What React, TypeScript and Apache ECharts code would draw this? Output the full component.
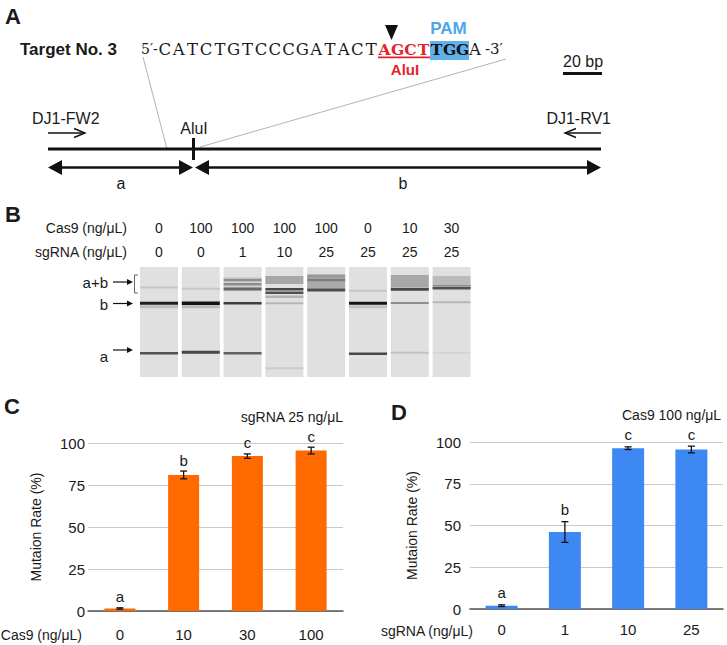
import React, { useEffect, useRef } from "react";
import * as echarts from "echarts";

// ---------- Panel B: gel ----------
const laneCas9 = ["0", "100", "100", "100", "100", "0", "10", "30"];
const laneSgRNA = ["0", "0", "1", "10", "25", "25", "25", "25"];
// [lane, migration position (from gel top), intensity, thickness]
const gelBands: number[][] = [
  [0, 20.5, 0.13, 2], [0, 36.3, 0.95, 3], [0, 39.8, 0.18, 3], [0, 86.3, 0.7, 2.5],
  [1, 21.7, 0.13, 2], [1, 36.3, 1.0, 3.5], [1, 39.8, 0.2, 3], [1, 85.3, 0.75, 3],
  [2, 17, 0.08, 14], [2, 13, 0.35, 2.5], [2, 17.3, 0.35, 2.5], [2, 22, 0.55, 3], [2, 36.3, 0.8, 2.5], [2, 86.3, 0.62, 2.5],
  [3, 13, 0.28, 8], [3, 22.3, 0.75, 2.5], [3, 25.7, 0.7, 2.5], [3, 29.7, 0.22, 2.5], [3, 36.3, 0.2, 2], [3, 101.3, 0.1, 2],
  [4, 14.5, 0.26, 14], [4, 13, 0.3, 2.5], [4, 23, 0.72, 3], [4, 9, 0.12, 3],
  [5, 23.7, 0.12, 2], [5, 36.3, 1.0, 3], [5, 39.8, 0.15, 3], [5, 86.7, 0.75, 2.5],
  [6, 14, 0.28, 12], [6, 22.3, 0.75, 3], [6, 36, 0.4, 2], [6, 85.7, 0.15, 2],
  [7, 14, 0.18, 10], [7, 19, 0.28, 2], [7, 21.3, 0.7, 2.5], [7, 35.3, 0.2, 2], [7, 86, 0.05, 2],
];

// ---------- Panel C ----------
const cas9Doses = ["0", "10", "30", "100"];
const cas9Rates = [1.5, 81, 92.2, 95.5];
const cas9Errors = [0.4, 2.3, 1.3, 2.0];
const cas9Groups = ["a", "b", "c", "c"];

// ---------- Panel D ----------
const sgDoses = ["0", "1", "10", "25"];
const sgRates = [2.0, 46.1, 96.3, 95.5];
const sgErrors = [0.5, 6.2, 0.8, 2.0];
const sgGroups = ["a", "b", "c", "c"];

const rateMin = 0;
const rateMax = 100;
const rateStep = 25;

const SANS = '"Liberation Sans", Arial, Helvetica, sans-serif';
const SERIF = '"DejaVu Serif", serif';
const RED = "#E3242B";
const BLUE_TXT = "#4DA6EC";

function txt(x: number, y: number, text: string, opts: any = {}) {
  return {
    type: "text",
    x,
    y,
    silent: true,
    style: {
      text,
      fill: opts.fill || "#1a1a1a",
      font: `${opts.weight || "normal"} ${opts.size || 14}px ${opts.family || SANS}`,
      textAlign: opts.align || "left",
      textVerticalAlign: "middle",
    },
  };
}

function line(x1: number, y1: number, x2: number, y2: number, stroke: string, lineWidth: number) {
  return { type: "line", silent: true, shape: { x1, y1, x2, y2 }, style: { stroke, lineWidth } };
}

function poly(points: number[][], fill: string) {
  return { type: "polygon", silent: true, shape: { points }, style: { fill } };
}

function buildGraphics() {
  const g: any[] = [];
  // Panel letters
  g.push(txt(5, 16, "A", { weight: "bold", size: 22 }));
  g.push(txt(5, 214, "B", { weight: "bold", size: 22 }));
  g.push(txt(4, 406, "C", { weight: "bold", size: 22 }));
  g.push(txt(391, 412, "D", { weight: "bold", size: 22 }));

  // ---- Panel A ----
  g.push(txt(20, 49, "Target No. 3", { weight: "bold", size: 17 }));
  // zoom lines
  g.push(line(143, 57, 167, 149, "#b3b3b3", 1));
  g.push(line(506, 59, 200, 147, "#b3b3b3", 1));
  // PAM highlight & AluI underline
  g.push({ type: "rect", silent: true, shape: { x: 430, y: 41, width: 39, height: 19 }, style: { fill: "#62B0EA" } });
  g.push({ type: "rect", silent: true, shape: { x: 378, y: 56.5, width: 52, height: 1.7 }, style: { fill: RED } });
  g.push(txt(141, 49, "5′-", { family: SERIF, size: 14 }));
  const plain = "CATCTGTCCCGATACT";
  for (let i = 0; i < plain.length; i++) {
    g.push(txt(158 + 13.75 * (i + 0.5), 49, plain[i], { family: SERIF, size: 16.5, align: "center" }));
  }
  const alu = "AGCT";
  for (let i = 0; i < alu.length; i++) {
    g.push(txt(378 + 13 * (i + 0.5), 49, alu[i], { family: SERIF, size: 15.5, align: "center", weight: "bold", fill: RED }));
  }
  const pam = "TGG";
  for (let i = 0; i < pam.length; i++) {
    g.push(txt(430 + 13 * (i + 0.5), 49, pam[i], { family: SERIF, size: 15.5, align: "center", weight: "bold", fill: "#111" }));
  }
  g.push(txt(475, 49, "A", { family: SERIF, size: 16.5, align: "center" }));
  g.push(txt(485, 49, "-3′", { family: SERIF, size: 15 }));
  g.push(poly([[385, 25], [398, 25], [391.5, 40]], "#111"));
  g.push(txt(448.5, 28, "PAM", { weight: "bold", size: 17, align: "center", fill: BLUE_TXT }));
  g.push(txt(405, 69, "AluI", { weight: "bold", size: 15, align: "center", fill: RED }));
  // scale bar
  g.push(txt(583, 61, "20 bp", { size: 16, align: "center" }));
  g.push({ type: "rect", silent: true, shape: { x: 563, y: 72, width: 39, height: 3 }, style: { fill: "#111" } });
  // primers
  g.push(txt(32, 118, "DJ1-FW2", { size: 16 }));
  g.push(txt(611, 118, "DJ1-RV1", { size: 16, align: "right" }));
  g.push(line(48, 133, 85, 133, "#111", 1.4));
  g.push({ type: "polyline", silent: true, shape: { points: [[74, 128.5], [85, 133], [74, 137.5]] }, style: { stroke: "#111", lineWidth: 1.4, fill: null } });
  g.push(line(565, 133, 601, 133, "#111", 1.4));
  g.push({ type: "polyline", silent: true, shape: { points: [[576, 128.5], [565, 133], [576, 137.5]] }, style: { stroke: "#111", lineWidth: 1.4, fill: null } });
  // amplicon
  g.push(line(48, 149, 601, 149, "#111", 3));
  g.push(line(193.5, 138, 193.5, 160, "#111", 3));
  g.push(txt(194, 128, "AluI", { size: 16, align: "center" }));
  // fragment arrows
  g.push(line(56, 167.5, 185, 167.5, "#111", 2.5));
  g.push(poly([[48, 167.5], [62, 160], [62, 175]], "#111"));
  g.push(poly([[193, 167.5], [179, 160], [179, 175]], "#111"));
  g.push(line(203, 167.5, 593, 167.5, "#111", 2.5));
  g.push(poly([[195, 167.5], [209, 160], [209, 175]], "#111"));
  g.push(poly([[601, 167.5], [587, 160], [587, 175]], "#111"));
  g.push(txt(121, 183, "a", { size: 16, align: "center" }));
  g.push(txt(403, 183, "b", { size: 16, align: "center" }));

  // ---- Panel B labels ----
  g.push(txt(127, 228, "Cas9 (ng/μL)", { size: 14, align: "right" }));
  g.push(txt(127, 252, "sgRNA (ng/μL)", { size: 14, align: "right" }));
  const arrowRows: [string, number, number][] = [["a+b", 282.7, 282], ["b", 304, 303.5], ["a", 356, 350]];
  arrowRows.forEach(([label, ty, ay]) => {
    g.push(txt(108, ty, label, { size: 15, align: "right" }));
    g.push(line(113, ay, 128, ay, "#111", 1.2));
    g.push(poly([[127, ay - 3], [133, ay], [127, ay + 3]], "#111"));
  });
  g.push({ type: "polyline", silent: true, shape: { points: [[138, 275], [134.5, 275], [134.5, 293], [138, 293]] }, style: { stroke: "#666", lineWidth: 1, fill: null } });

  // ---- Panels C/D captions ----
  g.push(txt(343, 417, "sgRNA 25 ng/μL", { size: 14, align: "right" }));
  g.push(txt(82, 635, "Cas9 (ng/μL)", { size: 14, align: "right" }));
  g.push(txt(622, 415, "Cas9 100 ng/μL", { size: 14 }));
  g.push(txt(473, 631, "sgRNA (ng/μL)", { size: 14, align: "right" }));
  return g;
}

function errorSeries(name: string, idx: number, rates: number[], errs: number[], groups: string[], gap: number) {
  return {
    name,
    type: "custom",
    xAxisIndex: idx,
    yAxisIndex: idx,
    silent: true,
    z: 5,
    data: rates.map((v, i) => [i, v, errs[i]]),
    renderItem: (params: any, api: any) => {
      const i = api.value(0);
      const v = api.value(1);
      const e = api.value(2);
      const top = api.coord([i, v + e]);
      const bot = api.coord([i, Math.max(0, v - e)]);
      const hw = 3.5;
      const st = { stroke: "#111", lineWidth: 1.3 };
      return {
        type: "group",
        children: [
          { type: "line", shape: { x1: top[0], y1: top[1], x2: bot[0], y2: bot[1] }, style: st },
          { type: "line", shape: { x1: top[0] - hw, y1: top[1], x2: top[0] + hw, y2: top[1] }, style: st },
          { type: "line", shape: { x1: bot[0] - hw, y1: bot[1], x2: bot[0] + hw, y2: bot[1] }, style: st },
          {
            type: "text",
            x: top[0],
            y: top[1] - gap,
            style: { text: groups[params.dataIndex], font: `15px ${SANS}`, fill: "#1a1a1a", textAlign: "center", textVerticalAlign: "middle" },
          },
        ],
      };
    },
  };
}

function rateAxis(idx: number, nameGap: number, labelMargin: number) {
  return {
    type: "value",
    gridIndex: idx,
    min: rateMin,
    max: rateMax,
    interval: rateStep,
    name: "Mutaion Rate (%)",
    nameLocation: "middle",
    nameRotate: 90,
    nameGap,
    nameTextStyle: { fontFamily: SANS, fontSize: 14, color: "#1a1a1a" },
    axisLine: { show: false },
    axisTick: { show: false },
    axisLabel: { fontFamily: SANS, fontSize: 15, color: "#1a1a1a", margin: labelMargin },
    splitLine: { lineStyle: { color: "#c9c9c9", width: 1 } },
  };
}

function doseAxis(idx: number, cats: string[], margin: number) {
  return {
    type: "category",
    gridIndex: idx,
    data: cats,
    axisLine: { lineStyle: { color: "#555", width: 1.5 } },
    axisTick: { show: false },
    axisLabel: { fontFamily: SANS, fontSize: 15, color: "#1a1a1a", margin },
  };
}

export default function App() {
  const ref = useRef<HTMLDivElement>(null);
  useEffect(() => {
    document.body.style.margin = "0";
    if (!ref.current) return;
    const chart = echarts.init(ref.current, null, { renderer: "svg" });
    const option: any = {
      animation: false,
      backgroundColor: "#ffffff",
      grid: [
        { left: 138.1, top: 267, width: 334.4, height: 110 },
        { left: 88, top: 443, width: 255, height: 168 },
        { left: 470, top: 442, width: 253, height: 167 },
      ],
      xAxis: [
        {
          type: "category",
          gridIndex: 0,
          position: "top",
          data: laneCas9,
          axisLine: { show: false },
          axisTick: { show: false },
          axisLabel: {
            margin: 3,
            fontFamily: SANS,
            fontSize: 14,
            color: "#1a1a1a",
            lineHeight: 24,
            formatter: (v: string, i: number) => `${v}\n${laneSgRNA[i]}`,
          },
        },
        doseAxis(1, cas9Doses, 16),
        doseAxis(2, sgDoses, 13),
      ],
      yAxis: [
        { type: "value", gridIndex: 0, min: 0, max: 110, inverse: true, show: false },
        rateAxis(1, 45, 3),
        rateAxis(2, 51, 9),
      ],
      graphic: buildGraphics(),
      series: [
        {
          name: "lanes",
          type: "custom",
          xAxisIndex: 0,
          yAxisIndex: 0,
          silent: true,
          data: laneCas9.map((_, i) => [i]),
          renderItem: (params: any, api: any) => {
            const i = api.value(0);
            const t = api.coord([i, 0]);
            const b = api.coord([i, 110]);
            const w = api.size([1, 0])[0] * 0.91;
            return { type: "rect", shape: { x: t[0] - w / 2, y: t[1], width: w, height: b[1] - t[1] }, style: { fill: "#E0E0E0" } };
          },
        },
        {
          name: "bands",
          type: "custom",
          xAxisIndex: 0,
          yAxisIndex: 0,
          silent: true,
          z: 3,
          data: gelBands,
          encode: { x: 0, y: 1 },
          renderItem: (params: any, api: any) => {
            const i = api.value(0);
            const p = api.value(1);
            const a = api.value(2);
            const th = api.value(3);
            const c = api.coord([i, p]);
            const w = api.size([1, 0])[0] * 0.91;
            const h = api.size([0, th])[1];
            return { type: "rect", shape: { x: c[0] - w / 2, y: c[1] - h / 2, width: w, height: h }, style: { fill: `rgba(20,20,20,${a})` } };
          },
        },
        {
          name: "Cas9 titration",
          type: "bar",
          xAxisIndex: 1,
          yAxisIndex: 1,
          barWidth: 31,
          itemStyle: { color: "#FF6A00" },
          data: cas9Rates,
        },
        errorSeries("Cas9 err", 1, cas9Rates, cas9Errors, cas9Groups, 11),
        {
          name: "sgRNA titration",
          type: "bar",
          xAxisIndex: 2,
          yAxisIndex: 2,
          barWidth: 32,
          itemStyle: { color: "#3D88F2" },
          data: sgRates,
        },
        errorSeries("sgRNA err", 2, sgRates, sgErrors, sgGroups, 12),
      ],
    };
    chart.setOption(option);
    return () => chart.dispose();
  }, []);
  return <div ref={ref} style={{ width: 727, height: 645 }} />;
}
